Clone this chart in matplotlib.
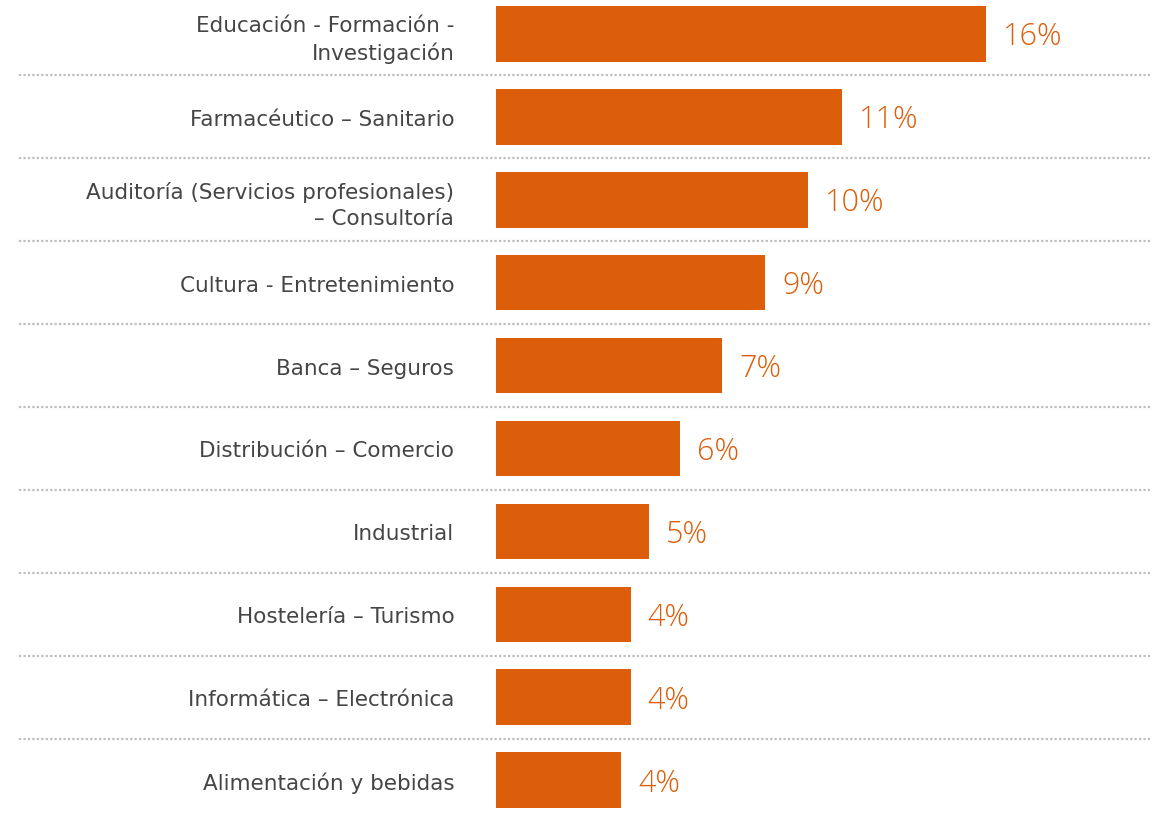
import matplotlib
matplotlib.use("Agg")
import matplotlib.pyplot as plt
from matplotlib.transforms import blended_transform_factory

plt.rcParams['font.family'] = ['DejaVu Sans']

sectors = [
    "Educación - Formación -\nInvestigación",
    "Farmacéutico – Sanitario",
    "Auditoría (Servicios profesionales)\n– Consultoría",
    "Cultura - Entretenimiento",
    "Banca – Seguros",
    "Distribución – Comercio",
    "Industrial",
    "Hostelería – Turismo",
    "Informática – Electrónica",
    "Alimentación y bebidas",
]
shares = [16.0, 11.3, 10.2, 8.8, 7.4, 6.0, 5.0, 4.4, 4.4, 4.1]
share_labels = ["16%", "11%", "10%", "9%", "7%", "6%", "5%", "4%", "4%", "4%"]

orange = "#DD5E0A"
text_grey = "#454545"

fig = plt.figure(figsize=(11.52, 8.2), dpi=100)
ax = fig.add_axes([496 / 1152, 0, 1 - 496 / 1152, 1])

ypos = list(range(len(sectors)))
ax.barh(ypos, shares, height=0.67, color=orange)

px = 30.6  # pixels per percent point
ax.set_xlim(0, (1152 - 496) / px)
ax.set_ylim((820 - 35) / 82.9, -35 / 82.9)

for y, v, lab in zip(ypos, shares, share_labels):
    ax.text(v + 17 / px, y + 0.03, lab, va="center", ha="left", fontsize=22,
            color=orange, fontweight="light", family=["Open Sans"])

ax.set_yticks(ypos)
ax.set_yticklabels(sectors, fontsize=15.5, color=text_grey, linespacing=1.36)
ax.tick_params(axis="y", length=0, pad=30)
ax.set_xticks([])
for s in ax.spines.values():
    s.set_visible(False)

trans = blended_transform_factory(fig.transFigure, ax.transData)
for y in ypos[:-1]:
    ax.plot([19 / 1152, 1150 / 1152], [y + 0.5, y + 0.5], transform=trans,
            clip_on=False, color="#bdbdbd", lw=1.6, linestyle=(0, (1, 1)))

fig.savefig("out.png", dpi=100)
